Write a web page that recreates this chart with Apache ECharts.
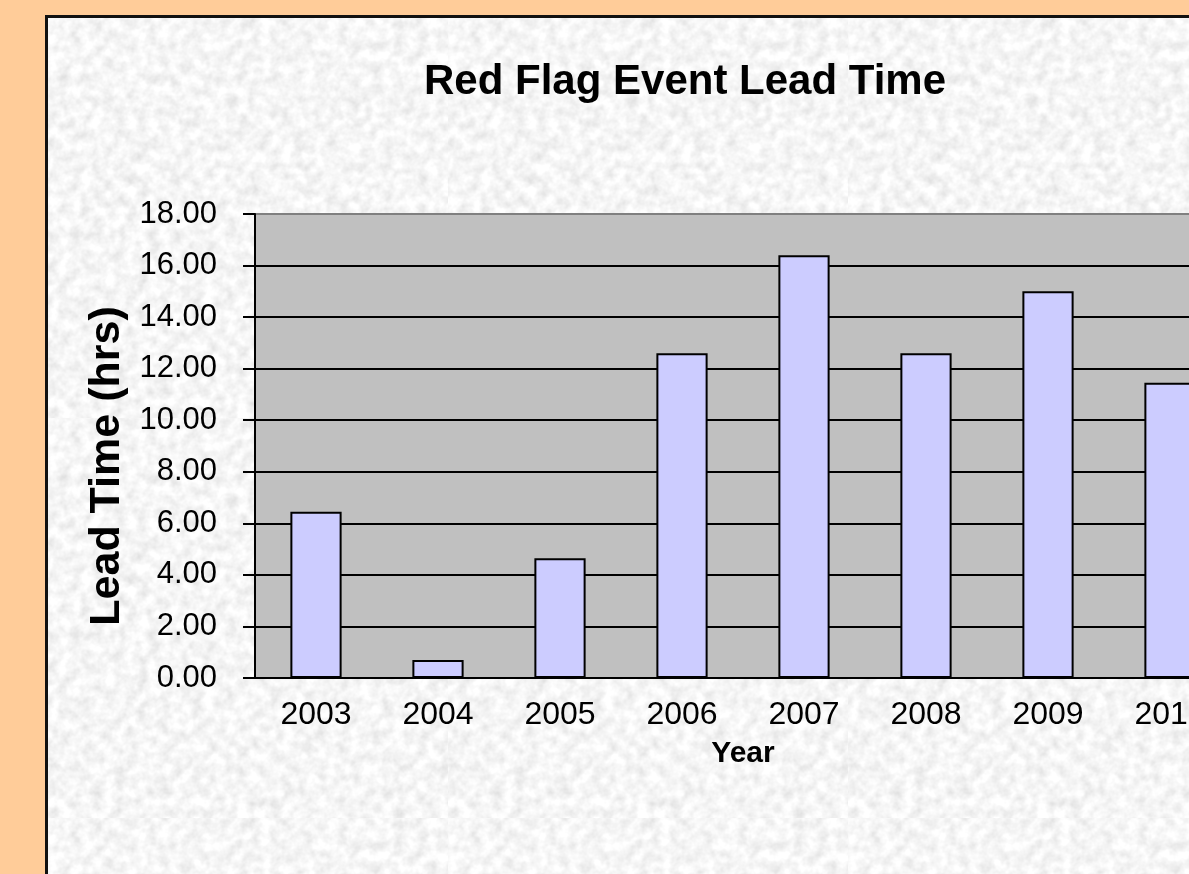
<!doctype html>
<html>
<head>
<meta charset="utf-8">
<title>Red Flag Event Lead Time</title>
<script src="https://cdn.jsdelivr.net/npm/echarts@6/dist/echarts.min.js"></script>
<style>
  html, body { margin: 0; padding: 0; width: 100%; height: 100%; overflow: hidden; background: #ffcc99; }
  #panel {
    position: absolute; left: 45px; top: 15px; width: 1400px; height: 900px;
    border-left: 3px solid #111; border-top: 3px solid #111;
    background-color: #ebebeb;
    background-image: url("data:image/svg+xml,%3Csvg xmlns='http://www.w3.org/2000/svg' width='400' height='400'%3E%3Cfilter id='n'%3E%3CfeTurbulence type='fractalNoise' baseFrequency='0.09' numOctaves='3' stitchTiles='stitch'/%3E%3CfeColorMatrix values='0.4 0 0 0 0.72 0.4 0 0 0 0.72 0.4 0 0 0 0.72 0 0 0 0 1'/%3E%3C/filter%3E%3Crect width='100%25' height='100%25' filter='url(%23n)'/%3E%3C/svg%3E");
  }
  #draw { position: absolute; left: 0; top: 0; width: 1400px; height: 874px; }
</style>
</head>
<body>
<div id="panel"></div>
<div id="draw"></div>
<script>
  // data
  const years = ['2003', '2004', '2005', '2006', '2007', '2008', '2009', '2010']
  const leadTime = [6.45, 0.70, 4.65, 12.60, 16.40, 12.60, 15.00, 11.45]
  const yTicks = [0, 2, 4, 6, 8, 10, 12, 14, 16, 18]

  // grid lines black, top border of the plot grey
  const splitColors = yTicks.map((v, i) => i === yTicks.length - 1 ? '#808080' : '#000')

  const font = '"Liberation Sans", Arial, sans-serif'
  const myChart = echarts.init(document.getElementById('draw'), null, { renderer: 'canvas' })
  const option = {
    backgroundColor: 'transparent',
    animation: false,
    title: {
      text: 'Red Flag Event Lead Time',
      left: 680,
      top: 56,
      textAlign: 'center',
      textStyle: { fontFamily: font, fontSize: 42, fontWeight: 'bold', color: '#000' }
    },
    grid: {
      left: 255, top: 214, width: 976, height: 464,
      show: true, backgroundColor: '#c0c0c0', borderWidth: 0
    },
    xAxis: {
      type: 'category',
      data: years,
      name: 'Year',
      nameLocation: 'middle',
      nameGap: 61,
      nameTextStyle: { fontFamily: font, fontSize: 30, fontWeight: 'bold', color: '#000' },
      axisLine: { lineStyle: { color: '#000', width: 2 } },
      axisTick: { length: 12, lineStyle: { color: '#000', width: 2 } },
      axisLabel: { margin: 21, fontFamily: font, fontSize: 32, color: '#000' }
    },
    yAxis: {
      type: 'value',
      min: 0, max: 18, interval: 2,
      name: 'Lead Time (hrs)',
      nameLocation: 'middle',
      nameGap: 118,
      nameTextStyle: { fontFamily: font, fontSize: 43, fontWeight: 'bold', color: '#000', padding: [0, 40, 0, 0] },
      axisLine: { show: true, lineStyle: { color: '#000', width: 2 } },
      axisTick: { show: true, length: 12, lineStyle: { color: '#000', width: 2 } },
      axisLabel: {
        margin: 38, fontFamily: font, fontSize: 31, color: '#000',
        formatter: v => v.toFixed(2)
      },
      splitLine: { show: true, lineStyle: { color: splitColors, width: 2 } }
    },
    series: [{
      type: 'bar',
      data: leadTime,
      barWidth: '42%',
      itemStyle: { color: '#ccccff', borderColor: '#000', borderWidth: 2 }
    }]
  }
  myChart.setOption(option)
</script>
</body>
</html>
